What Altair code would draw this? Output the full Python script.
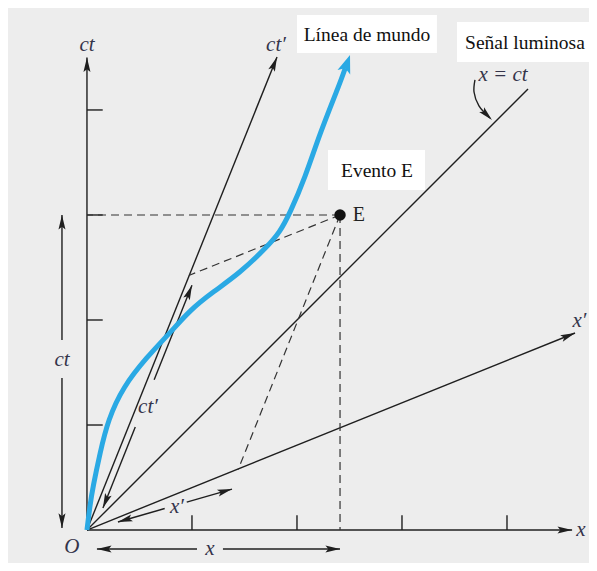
import math
import altair as alt
import pandas as pd

# ---------------- data (units: x and ct, 1 tick = 1 unit) ----------------
X_DOMAIN = [-0.752, 4.781]
Y_DOMAIN = [-0.314, 4.971]

# world line (Línea de mundo)
world_x = [0, 0.029, 0.057, 0.124, 0.2, 0.343, 0.571, 0.79, 0.981, 1.2, 1.457,
           1.714, 1.838, 1.933, 2.076, 2.219, 2.41, 2.46]
world_ct = [0, 0.238, 0.41, 0.733, 1.048, 1.362, 1.648, 1.876, 2.095, 2.267,
            2.448, 2.695, 2.838, 3.019, 3.352, 3.781, 4.257, 4.40]
world_tip = (2.505, 4.524)

# event E
event_x = 2.41
event_ct = 3.0

# solid segments: axes, light line, ticks, measuring arrows
solid_x1 = [0, 0, 0, 0, 0,
            0, 0, 0, 0, 1, 2, 3, 4,
            -0.238, -0.238, 0.095, 1.295,
            0.152, 0.64, 0.295, 0.95]
solid_y1 = [0, 0, 0, 0, 0,
            1, 2, 3, 4, 0, 0, 0, 0,
            0.02, 1.81, -0.181, -0.181,
            0.21, 1.43, 0.076, 0.265]
solid_x2 = [0, 4.62, 1.81, 4.648, 4.2,
            0.15, 0.15, 0.15, 0.15, 1, 2, 3, 4,
            -0.238, -0.238, 1.048, 2.41,
            0.46, 1.0, 0.74, 1.381]
solid_y2 = [4.5, 0, 4.505, 1.876, 4.2,
            1, 2, 3, 4, 0.14, 0.14, 0.14, 0.14,
            1.448, 3.0, -0.181, -0.181,
            0.98, 2.33, 0.205, 0.39]

# dashed projections from E
dash_x2 = [0, 2.41, 0.97, 1.44]
dash_y2 = [3.0, 0, 2.424, 0.576]

# arrowheads (tip position, direction)
head_x = [0, 4.62, 1.81, 4.648, -0.238, -0.238, 0.095, 2.41, 1.0, 0.152, 1.381, 0.295, 3.857]
head_y = [4.5, 0, 4.505, 1.876, 3.0, 0.02, -0.181, -0.181, 2.33, 0.21, 0.39, 0.076, 3.905]
head_dx = [0, 1, 1.81, 4.648, 0, 0, -1, 1, 0.4, -0.4, 1.086, -1.086, 0.7]
head_dy = [1, 0, 4.505, 1.876, 1, -1, 0, 0, 1, -1, 0.314, -0.314, -0.7]

# curved pointer to the light line
curve_x = [3.695, 3.686, 3.733, 3.838]
curve_y = [4.286, 4.171, 4.038, 3.924]

# boxed labels
box_text = ["Línea de mundo", "Señal luminosa", "Evento E"]
box_tx = [2.667, 4.171, 2.762]
box_ty = [4.714, 4.638, 3.419]
box_x1 = [2.0, 3.524, 2.295]
box_x2 = [3.333, 4.9, 3.219]
box_y1 = [4.543, 4.457, 3.238]
box_y2 = [4.905, 4.838, 3.619]

# italic math labels
lab_text = ["ct", "ct′", "x′", "x", "O", "ct", "x", "ct′", "x′", "x = ct"]
lab_x = [0, 1.8, 4.69, 4.705, -0.143, -0.238, 1.171, 0.581, 0.857, 3.962]
lab_y = [4.619, 4.619, 1.99, 0, -0.162, 1.619, -0.181, 1.171, 0.219, 4.333]

# ---------------- build ----------------
xs = alt.Scale(domain=X_DOMAIN, nice=False, zero=False)
ys = alt.Scale(domain=Y_DOMAIN, nice=False, zero=False)
X = lambda f: alt.X(f, type="quantitative", scale=xs, axis=None)
Y = lambda f: alt.Y(f, type="quantitative", scale=ys, axis=None)

INK = "#1f1f1f"
BLUE = "#2aa9e4"
SERIF = "Liberation Serif"

solid_df = pd.DataFrame({"x": solid_x1, "y": solid_y1, "x2": solid_x2, "y2": solid_y2})
solid = alt.Chart(solid_df).mark_rule(color=INK, strokeWidth=1.4).encode(
    x=X("x"), y=Y("y"), x2="x2", y2="y2")

dash_df = pd.DataFrame({"x": [event_x] * 4, "y": [event_ct] * 4, "x2": dash_x2, "y2": dash_y2})
dashed = alt.Chart(dash_df).mark_rule(color="#333333", strokeWidth=1.2, strokeDash=[8, 5]).encode(
    x=X("x"), y=Y("y"), x2="x2", y2="y2")

world_df = pd.DataFrame({"x": world_x, "y": world_ct, "o": list(range(len(world_x)))})
world = alt.Chart(world_df).mark_line(color=BLUE, strokeWidth=5, interpolate="basis").encode(
    x=X("x"), y=Y("y"), order="o:Q")

angles = [math.degrees(math.atan2(dx, dy)) % 360 for dx, dy in zip(head_dx, head_dy)]
head_df = pd.DataFrame({"x": head_x, "y": head_y, "a": angles})
ARROW = "M0,0L0.36,1.5L0,1.2L-0.36,1.5Z"
heads = alt.Chart(head_df).mark_point(shape=ARROW, filled=True, color=INK, opacity=1, size=380,
                                      strokeWidth=0).encode(
    x=X("x"), y=Y("y"), angle=alt.Angle("a:Q", scale=None))

wt_df = pd.DataFrame({"x": [world_tip[0]], "y": [world_tip[1]],
                      "a": [math.degrees(math.atan2(world_tip[0] - 2.41, world_tip[1] - 4.257)) % 360]})
wtip = alt.Chart(wt_df).mark_point(shape="M0,0L0.55,1.5L0,1.15L-0.55,1.5Z", filled=True, color=BLUE,
                                   opacity=1, size=600, strokeWidth=0).encode(
    x=X("x"), y=Y("y"), angle=alt.Angle("a:Q", scale=None))

curve_df = pd.DataFrame({"x": curve_x, "y": curve_y, "o": list(range(len(curve_x)))})
curve = alt.Chart(curve_df).mark_line(color=INK, strokeWidth=1.4, interpolate="catmull-rom").encode(
    x=X("x"), y=Y("y"), order="o:Q")

ev_df = pd.DataFrame({"x": [event_x], "y": [event_ct], "t": ["E"], "tx": [2.59]})
ev_dot = alt.Chart(ev_df).mark_point(shape="circle", filled=True, color="#111111", opacity=1, size=130).encode(
    x=X("x"), y=Y("y"))
ev_lab = alt.Chart(ev_df).mark_text(font=SERIF, fontSize=20, color="#222222", align="center",
                                    baseline="middle").encode(x=X("tx"), y=Y("y"), text="t:N")

box_df = pd.DataFrame({"t": box_text, "tx": box_tx, "ty": box_ty,
                       "x1": box_x1, "x2": box_x2, "y1": box_y1, "y2": box_y2})
boxes = alt.Chart(box_df).mark_rect(color="white").encode(x=X("x1"), x2="x2", y=Y("y1"), y2="y2")
box_labels = alt.Chart(box_df).mark_text(font=SERIF, fontSize=19.5, color="#111111",
                                         baseline="middle").encode(
    x=X("tx"), y=Y("ty"), text="t:N")

lab_df = pd.DataFrame({"t": lab_text, "x": lab_x, "y": lab_y})
labels = alt.Chart(lab_df).mark_text(
    font=SERIF, fontSize=21, fontStyle="italic", color="#34344a", align="center", baseline="middle").encode(
    x=X("x"), y=Y("y"), text="t:N")

chart = alt.layer(
    boxes, solid, dashed, curve, world, wtip, heads, ev_dot, ev_lab, box_labels, labels
).properties(
    width=581, height=555, padding=0, background="#ededed", autosize=alt.AutoSizeParams(type="none")
).configure_view(strokeWidth=0)

chart.save("out.html", embed_options={"renderer": "svg", "actions": False})
